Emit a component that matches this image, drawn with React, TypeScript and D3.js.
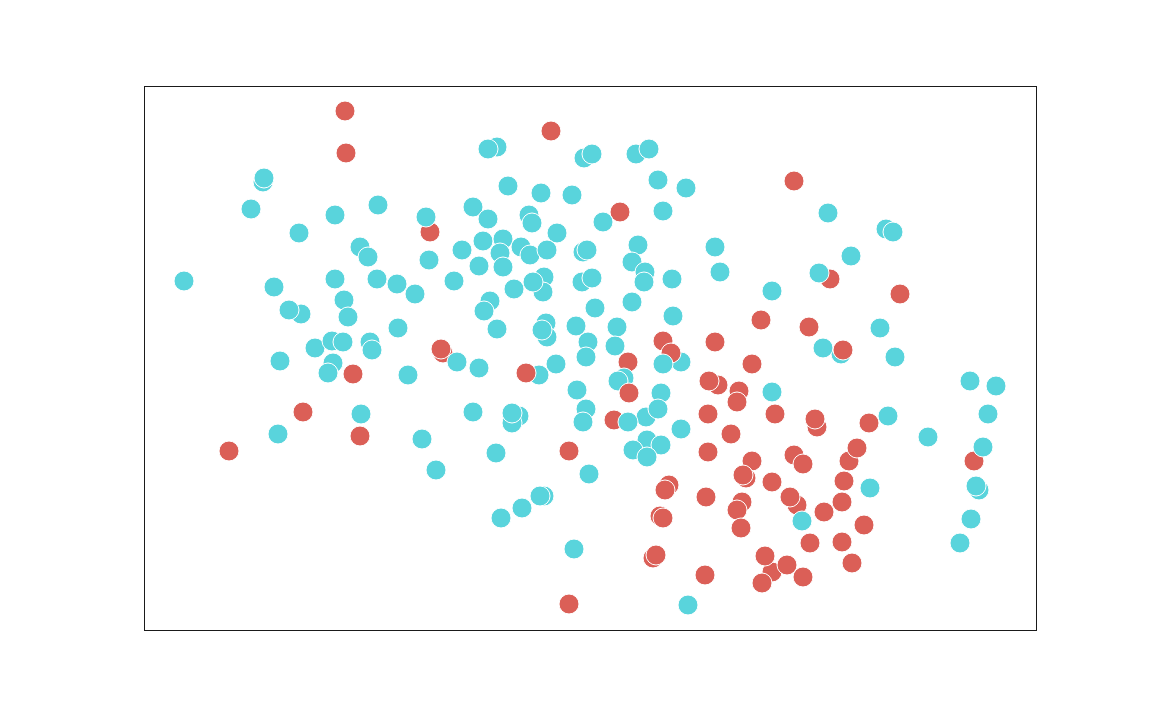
import { useEffect, useRef } from 'react';
import * as d3 from 'd3';

// two groups, no legend in the picture
const classes = ['A', 'B'];
const colors = ['#59d4dc', '#db5f57'];

// [x, y, class index] in plotting order (later points sit on top)
const points: [number, number, number][] = [
  [200, 519, 1], [201, 477, 1], [406, 499, 1],
  [352, 483, 0], [343, 481, 0], [439, 472, 0], [447, 476, 0], [491, 476, 0], [504, 481, 0],
  [118, 448, 0], [119, 452, 0], [649, 449, 1], [513, 450, 0], [541, 442, 0], [363, 444, 0],
  [396, 437, 0], [427, 435, 0], [106, 421, 0], [190, 415, 0], [233, 425, 0], [328, 423, 0],
  [285, 398, 1], [281, 413, 0], [343, 411, 0], [384, 415, 0], [387, 407, 0],
  [475, 418, 1], [458, 408, 0], [518, 419, 0], [683, 417, 0], [741, 401, 0], [748, 398, 0],
  [154, 397, 0], [412, 397, 0], [215, 383, 0], [223, 373, 0], [317, 380, 0], [338, 389, 0],
  [358, 391, 0], [355, 377, 0], [376, 383, 0], [385, 375, 0], [402, 380, 0], [438, 378, 0],
  [442, 380, 0], [493, 385, 0], [570, 383, 0], [706, 374, 0], [487, 368, 0], [284, 370, 0],
  [334, 364, 0], [358, 363, 0], [500, 358, 0], [499, 348, 0], [575, 358, 0], [527, 351, 0],
  [685, 351, 1], [674, 357, 0], [39, 349, 0], [129, 343, 0], [190, 351, 0], [232, 351, 0],
  [252, 346, 0], [270, 336, 0], [309, 349, 0], [369, 341, 0], [399, 353, 0], [398, 338, 0],
  [388, 348, 0], [437, 348, 0], [447, 352, 0], [755, 336, 1], [627, 339, 0],
  [156, 316, 0], [144, 320, 0], [199, 330, 0], [203, 313, 0], [345, 329, 0], [339, 319, 0],
  [450, 322, 0], [487, 328, 0], [528, 314, 0], [616, 310, 1], [664, 303, 1], [735, 302, 0],
  [253, 302, 0], [352, 301, 0], [401, 307, 0], [402, 293, 0], [397, 300, 0], [431, 304, 0],
  [472, 303, 0], [443, 288, 0], [441, 273, 0], [470, 284, 0], [536, 268, 0],
  [518, 289, 1], [526, 277, 1], [518, 266, 0], [570, 288, 1], [607, 266, 1],
  [696, 276, 0], [678, 282, 0], [698, 280, 1], [750, 273, 0],
  [170, 282, 0], [187, 289, 0], [198, 288, 0], [225, 288, 0], [227, 280, 0], [188, 267, 0],
  [183, 257, 0], [208, 256, 1], [135, 269, 0], [298, 277, 1], [296, 281, 1], [312, 268, 0],
  [334, 262, 0], [394, 255, 0], [381, 257, 1], [411, 266, 0], [483, 268, 1], [479, 252, 0],
  [473, 249, 0], [484, 237, 1], [573, 245, 1], [564, 249, 1], [594, 239, 1], [592, 228, 1],
  [627, 238, 0], [825, 249, 0], [851, 244, 0], [432, 240, 0], [263, 255, 0], [516, 237, 0],
  [501, 213, 0], [513, 221, 0], [469, 210, 1], [483, 208, 0], [441, 221, 0], [438, 208, 0],
  [563, 216, 1], [630, 216, 1], [672, 203, 1], [670, 211, 1], [743, 214, 0], [724, 207, 1],
  [843, 216, 0], [158, 218, 1], [216, 216, 0], [328, 218, 0], [374, 214, 0], [367, 207, 0],
  [367, 217, 0], [536, 201, 0], [586, 196, 1], [783, 193, 0], [133, 196, 0], [215, 194, 1],
  [277, 191, 0], [84, 179, 1], [502, 190, 0], [516, 185, 0], [488, 180, 0], [502, 173, 0],
  [563, 178, 1], [607, 169, 1], [649, 175, 1], [658, 166, 1], [704, 169, 1], [712, 182, 1],
  [829, 169, 1], [838, 183, 0], [351, 177, 0], [424, 179, 1], [291, 160, 0], [444, 156, 0],
  [601, 152, 1], [598, 155, 1], [627, 148, 1], [524, 145, 1], [520, 140, 1], [699, 149, 1],
  [725, 142, 0], [834, 140, 0], [831, 144, 0], [561, 133, 1], [652, 125, 1], [645, 133, 1],
  [597, 128, 1], [592, 120, 1], [697, 128, 1], [399, 134, 0], [395, 134, 0], [377, 122, 0],
  [356, 112, 0], [515, 114, 1], [518, 112, 1], [657, 109, 0], [679, 118, 1], [596, 102, 1],
  [719, 105, 1], [826, 111, 0], [665, 87, 1], [697, 88, 1], [815, 87, 0], [429, 81, 0],
  [508, 72, 1], [511, 75, 1], [627, 58, 1], [620, 74, 1], [642, 65, 1], [617, 47, 1],
  [707, 67, 1], [658, 53, 1], [560, 55, 1], [424, 26, 1], [543, 25, 0],
];

const xDomain = [0, 892];
const yDomain = [0, 544];

const ScatterChart = () => {
  const svgRef = useRef<SVGSVGElement>(null);

  useEffect(() => {
    const width = 1152;
    const height = 720;
    const left = 145, right = 1037, top = 86, bottom = 630;

    const svg = d3.select(svgRef.current);
    svg.selectAll('*').remove();
    svg.attr('width', width).attr('height', height);

    const x = d3.scaleLinear().domain(xDomain).range([left, right]);
    const y = d3.scaleLinear().domain(yDomain).range([bottom, top]);
    const color = d3.scaleOrdinal<string>().domain(classes).range(colors);

    svg.append('rect')
      .attr('width', width)
      .attr('height', height)
      .attr('fill', 'white');

    svg.append('g')
      .selectAll('circle')
      .data(points)
      .join('circle')
      .attr('cx', d => x(d[0]))
      .attr('cy', d => y(d[1]))
      .attr('r', 10)
      .attr('fill', d => color(classes[d[2]]))
      .attr('stroke', 'white')
      .attr('stroke-width', 1);

    // axes frame, snapped to the pixel grid
    svg.append('rect')
      .attr('x', left - 0.5)
      .attr('y', top + 0.5)
      .attr('width', right - left)
      .attr('height', bottom - top)
      .attr('fill', 'none')
      .attr('stroke', '#1a1a1a')
      .attr('stroke-width', 1);
  }, []);

  return <svg ref={svgRef} style={{ position: 'absolute', left: 0, top: 0, display: 'block' }} />;
};

export default function App() {
  return <ScatterChart />;
}
